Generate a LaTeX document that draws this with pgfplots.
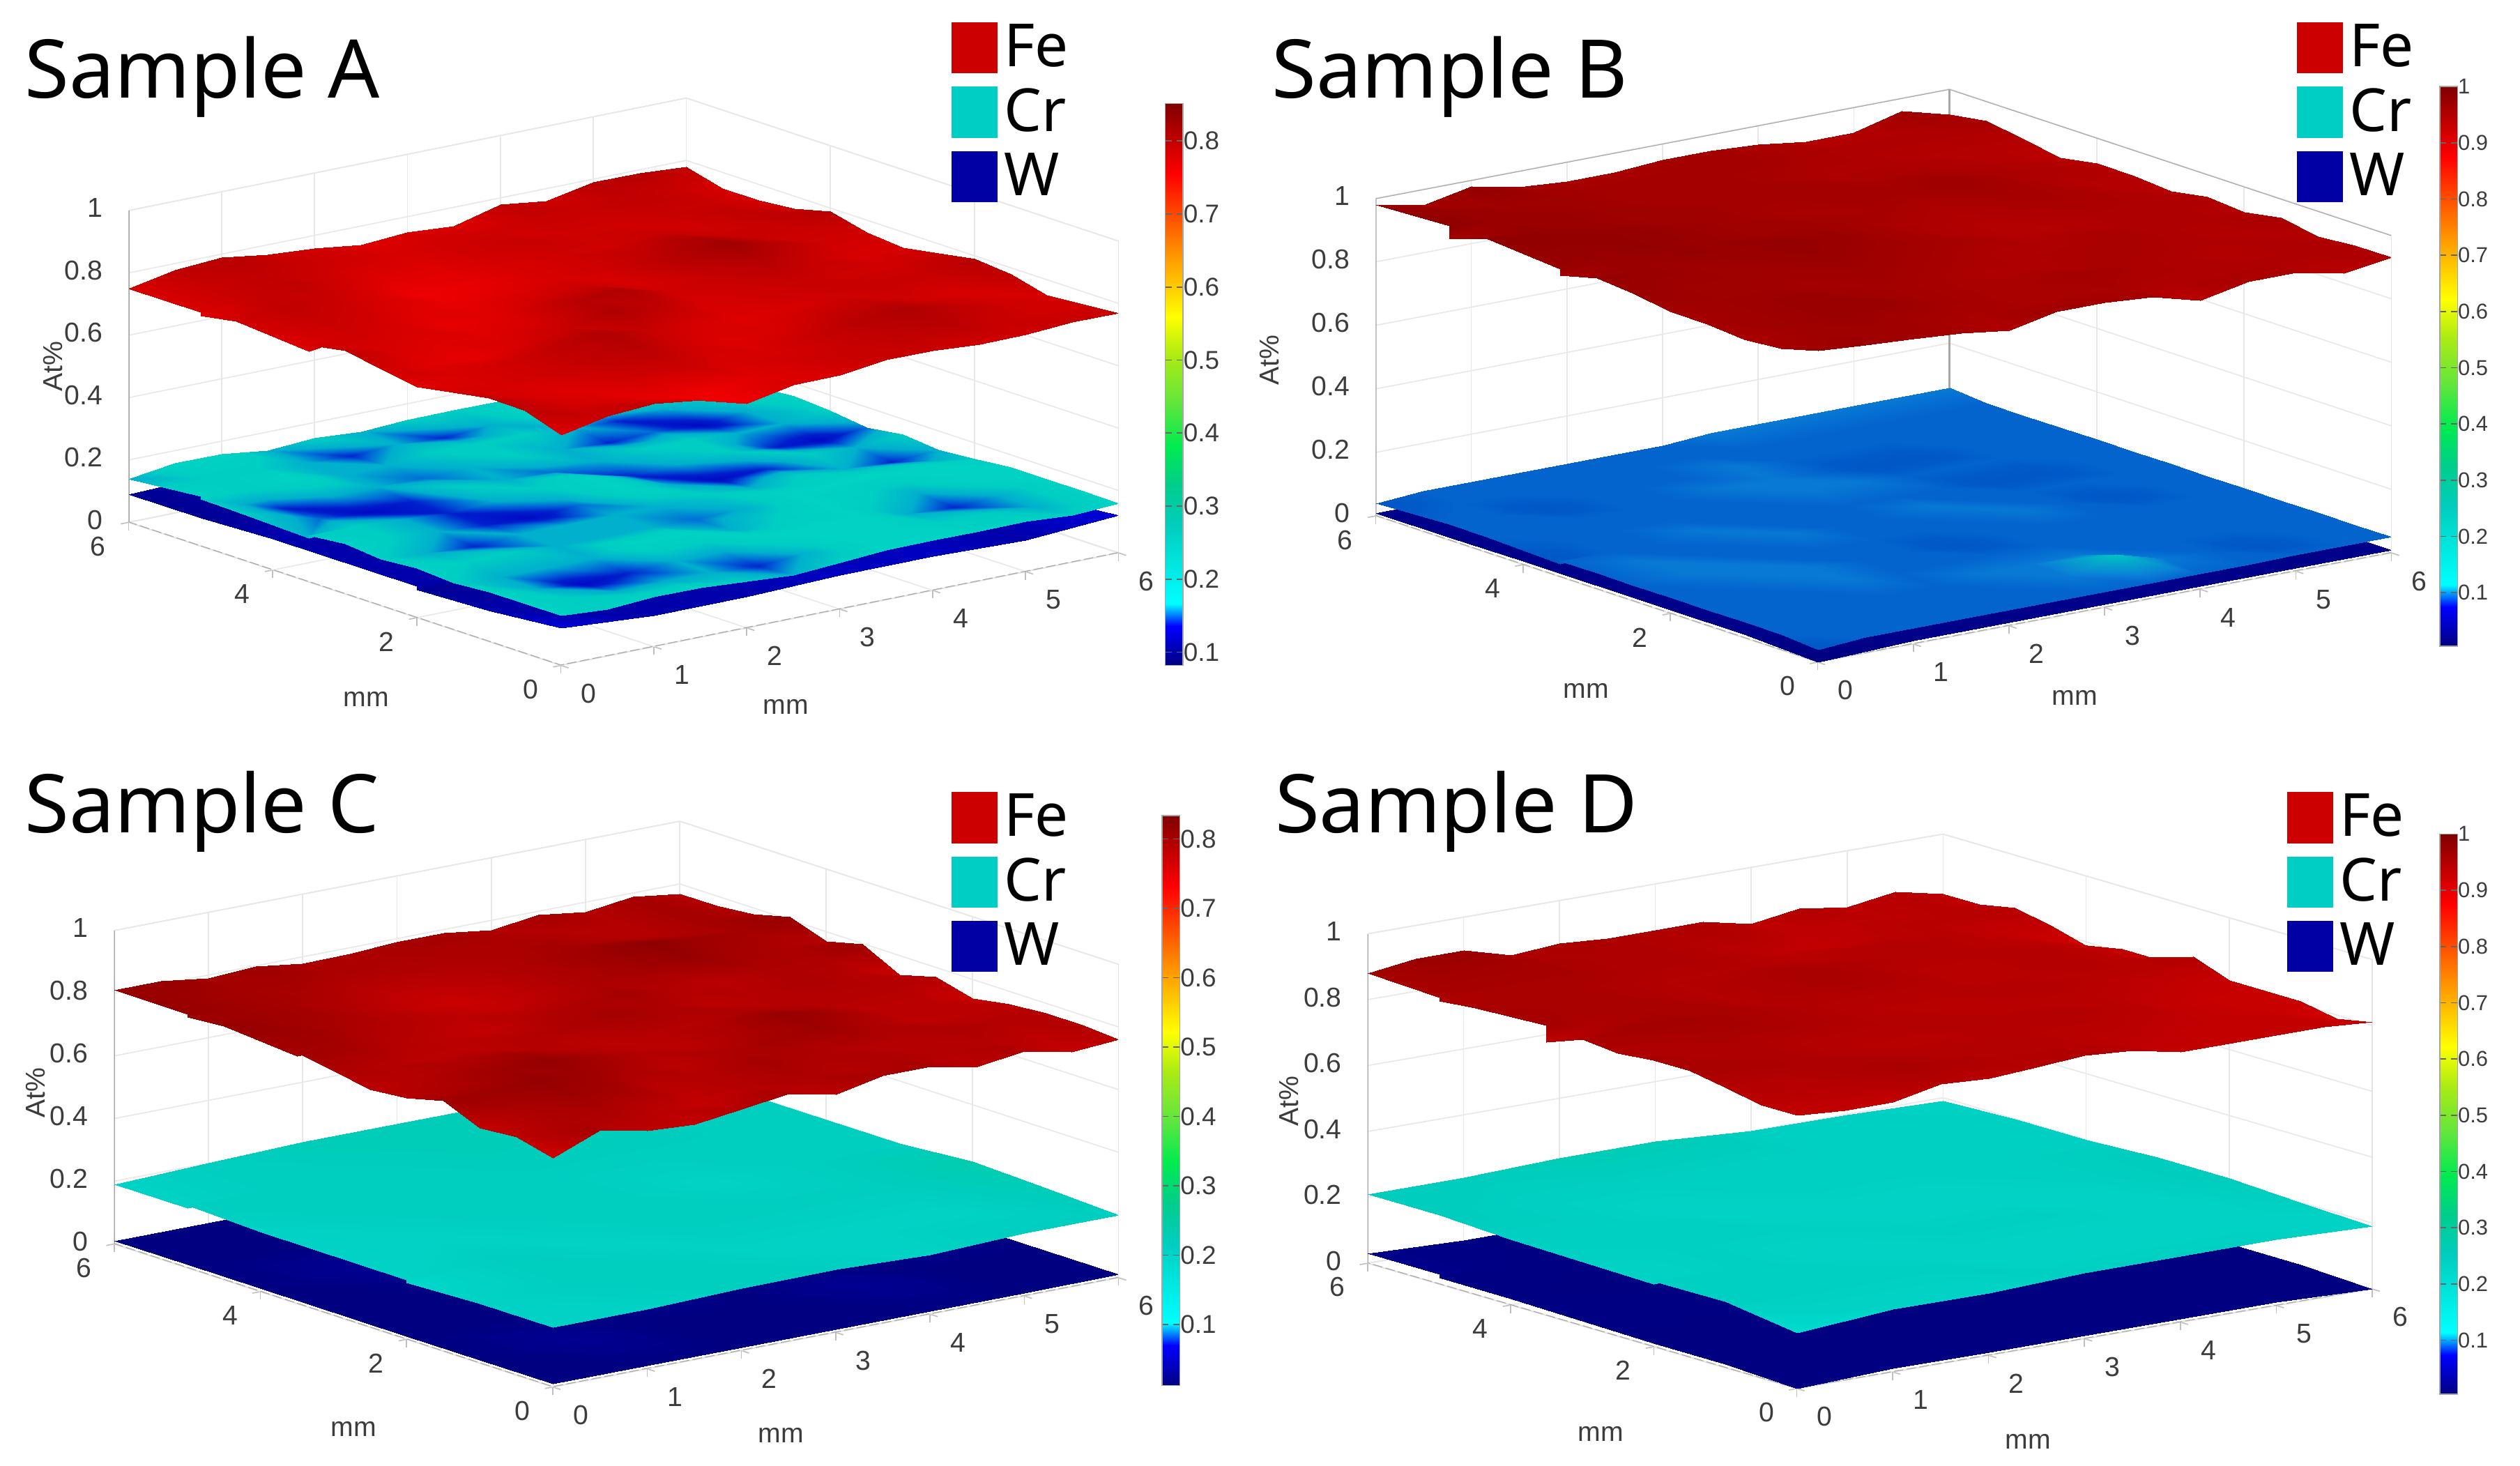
\documentclass[border=0pt]{standalone}
\usepackage{fontspec}
\usepackage{pgfplots}
\pgfplotsset{compat=1.18}
\setmainfont{Liberation Sans}
\newfontfamily\titlefont{Noto Sans}

\definecolor{legfe}{RGB}{205,0,0}
\definecolor{legcr}{RGB}{0,205,195}
\definecolor{legw}{RGB}{0,0,165}
\definecolor{tickc}{RGB}{60,60,60}

\pgfplotsset{
  colormap={jetmod}{
    rgb255(0pt)=(0,0,128) rgb255(70pt)=(0,0,255) rgb255(110pt)=(0,255,255)
    rgb255(250pt)=(0,205,190) rgb255(320pt)=(0,205,140) rgb255(390pt)=(0,235,80)
    rgb255(470pt)=(100,230,60) rgb255(550pt)=(170,235,20) rgb255(620pt)=(255,255,0)
    rgb255(730pt)=(255,150,0) rgb255(875pt)=(255,0,0) rgb255(1000pt)=(128,0,0)
  },
  colormap={crblue}{
    rgb255(0pt)=(0,70,190) rgb255(40pt)=(0,90,200) rgb255(50pt)=(5,110,210)
    rgb255(60pt)=(10,130,215) rgb255(100pt)=(0,205,190) rgb255(1000pt)=(0,205,190)
  },
  colormap={crteal}{
    rgb255(0pt)=(0,0,170) rgb255(56pt)=(0,10,195) rgb255(62pt)=(0,30,205)
    rgb255(69pt)=(0,110,215) rgb255(75pt)=(0,175,205) rgb255(88pt)=(0,205,195)
    rgb255(101pt)=(0,210,195) rgb255(1000pt)=(0,210,195)
  },
  fine/.style={surf,shader=interp,forget plot,mesh/rows=14,mesh/cols=13},
  coarse/.style={surf,shader=interp,forget plot,mesh/rows=8,mesh/cols=7},
  edge/.style={forget plot,no marks,draw=gray!70,line width=.5pt},
  dashedge/.style={edge,dash pattern=on 3pt off 1pt},
  sample/.style={
    colormap name=jetmod,
    anchor=origin,
    xmin=0,xmax=6,ymin=0,ymax=6,zmin=0,zmax=1,
    enlargelimits=false,
    xtick={0,1,2,3,4,5,6},ytick={0,2,4,6},ztick={0,0.2,0.4,0.6,0.8,1},
    grid=major,grid style={gray!18,line width=.35pt},
    axis line style={gray!22,line width=.35pt},
    tick style={gray!50,line width=.35pt},major tick length=2.5pt,tick align=outside,
    z tick style={draw=none},
    tick pos=left,
    /pgf/number format/assume math mode=true,
    tick label style={font=\fontsize{8.5}{10}\selectfont,text=tickc,inner sep=0pt},
    xticklabel style={anchor=center,xshift=6.3pt,yshift=-8pt},
    yticklabel style={anchor=center,xshift=-7pt,yshift=-7pt},
    zticklabel style={anchor=east,xshift=-5.5pt,yshift=0pt},
    label style={font=\fontsize{8.5}{10}\selectfont,text=tickc,anchor=center},
    xlabel=mm,ylabel=mm,zlabel=At\%,
    zlabel style={rotate=0},
    colorbar,
    legend cell align=left,
    legend image code/.code={\fill[##1] (0pt,-7.75pt) rectangle (14pt,7.75pt);},
    legend style={anchor=north west,draw=none,fill=none,inner sep=0pt,outer sep=0pt,
      font=\titlefont\fontsize{18.5}{20}\selectfont,row sep=1.25pt,
      /tikz/every even column/.append style={column sep=3pt}},
  },
  bar/.style n args={4}{
    colorbar style={
      at={(#1c)},anchor=south west,scale only axis,width=5.5pt,height=#2,
      ytick={#3},yticklabel pos=right,
      tick style={draw=black!60,line width=.35pt},major tick length=2pt,tick align=inside,
      axis line style={gray!70,line width=.3pt},
      /pgf/number format/assume math mode=true,
      yticklabel style={font=\fontsize{#4}{10}\selectfont,text=tickc,xshift=0pt},
    },
  },
  table/tablegrid13/.style={row sep=\\,header=false,x expr={mod(\coordindex,13)/2},y expr={min(floor(\coordindex/13)/2,6)},z index=0},
  table/tablegrid7/.style={row sep=\\,header=false,x expr={mod(\coordindex,7)},y expr={min(floor(\coordindex/7),6)},z index=0},
}

\begin{document}
\begin{tikzpicture}
\path[use as bounding box] (0pt,0pt) rectangle (784pt,-456pt);
\begin{scope}[x=0.5pt,y=-0.5pt]
  \coordinate (Ao) at (349,414);  \coordinate (Ac) at (708,414);
  \coordinate (Bo) at (1131,412); \coordinate (Bc) at (1501,402);
  \coordinate (Co) at (344,863);  \coordinate (Cc) at (706,862);
  \coordinate (Do) at (1118,864); \coordinate (Dc) at (1501,867.5);
  \node[anchor=west,inner sep=0pt,font=\titlefont\fontsize{25.2}{28}\selectfont] at (15,48) {Sample A};
  \node[anchor=west,inner sep=0pt,font=\titlefont\fontsize{25.2}{28}\selectfont] at (791,48) {Sample B};
  \node[anchor=west,inner sep=0pt,font=\titlefont\fontsize{25.2}{28}\selectfont] at (15,505) {Sample C};
  \node[anchor=west,inner sep=0pt,font=\titlefont\fontsize{25.2}{28}\selectfont] at (793,505) {Sample D};
\end{scope}

% ---------- Sample A
\begin{axis}[sample,at={(Ao)},
  x={(28.917pt,5.833pt)},y={(-22.417pt,7.417pt)},z={(0pt,97pt)},
  xlabel style={at={(70pt,-13pt)}},ylabel style={at={(-60.5pt,-10.5pt)}},zlabel style={at={(-158pt,93pt)}},
  legend style={at={(121.5pt,201.5pt)}},
  point meta min=0.082,point meta max=0.851,
  bar={A}{174.75pt}{0.1,0.2,0.3,0.4,0.5,0.6,0.7,0.8}{8}]
\addplot3[dashedge] coordinates {(6,0,0)(0,0,0)(0,6,0)};
\addplot3[edge] coordinates {(0,6,0)(0,6,1)};
\addplot3[coarse] table[tablegrid7]{
.12\\.10\\.10\\.11\\.11\\.10\\.12\\
.10\\.10\\.10\\.10\\.11\\.10\\.10\\
.09\\.10\\.11\\.10\\.10\\.11\\.11\\
.10\\.10\\.10\\.10\\.11\\.10\\.11\\
.10\\.11\\.10\\.10\\.10\\.11\\.10\\
.09\\.10\\.10\\.11\\.10\\.10\\.11\\
.09\\.10\\.10\\.10\\.10\\.10\\.11\\
.09\\.10\\.10\\.10\\.10\\.10\\.11\\
};
\addplot3[fine,colormap name=crteal] table[tablegrid13]{
.16\\.15\\.16\\.16\\.15\\.14\\.15\\.16\\.16\\.16\\.16\\.15\\.16\\
.16\\.15\\.14\\.14\\.14\\.13\\.14\\.16\\.16\\.15\\.15\\.14\\.16\\
.16\\.14\\.125\\.13\\.14\\.14\\.16\\.16\\.16\\.14\\.13\\.14\\.16\\
.15\\.14\\.14\\.14\\.16\\.16\\.14\\.15\\.16\\.15\\.14\\.16\\.16\\
.16\\.15\\.15\\.14\\.14\\.14\\.135\\.14\\.16\\.16\\.16\\.16\\.15\\
.15\\.14\\.13\\.14\\.14\\.14\\.14\\.15\\.14\\.15\\.14\\.13\\.14\\
.16\\.15\\.14\\.13\\.125\\.135\\.16\\.14\\.125\\.13\\.15\\.14\\.15\\
.15\\.15\\.14\\.13\\.14\\.15\\.16\\.13\\.14\\.15\\.13\\.125\\.135\\
.14\\.135\\.125\\.13\\.15\\.14\\.135\\.14\\.15\\.15\\.14\\.14\\.15\\
.15\\.13\\.14\\.14\\.135\\.14\\.15\\.14\\.13\\.135\\.125\\.14\\.16\\
.15\\.15\\.16\\.14\\.14\\.15\\.15\\.15\\.14\\.13\\.14\\.15\\.15\\
.16\\.15\\.15\\.14\\.13\\.14\\.13\\.14\\.16\\.16\\.16\\.15\\.16\\
.14\\.16\\.16\\.14\\.15\\.14\\.15\\.15\\.15\\.16\\.16\\.16\\.15\\
.14\\.16\\.16\\.14\\.15\\.14\\.15\\.15\\.15\\.16\\.16\\.16\\.15\\
};
\addplot3[fine,point meta={0.6*\thisrowno{0}+0.335}] table[tablegrid13]{
.74\\.77\\.78\\.76\\.72\\.75\\.75\\.77\\.77\\.76\\.76\\.77\\.77\\
.78\\.76\\.75\\.73\\.72\\.74\\.76\\.77\\.78\\.79\\.77\\.76\\.76\\
.78\\.75\\.74\\.76\\.77\\.75\\.75\\.77\\.79\\.80\\.78\\.76\\.75\\
.76\\.75\\.76\\.78\\.79\\.76\\.74\\.75\\.77\\.78\\.76\\.75\\.78\\
.74\\.75\\.76\\.78\\.80\\.77\\.75\\.74\\.75\\.76\\.77\\.77\\.79\\
.76\\.74\\.73\\.75\\.77\\.80\\.78\\.75\\.76\\.77\\.76\\.76\\.77\\
.78\\.75\\.74\\.74\\.75\\.79\\.80\\.76\\.77\\.79\\.77\\.75\\.75\\
.76\\.76\\.75\\.73\\.74\\.76\\.77\\.75\\.79\\.82\\.79\\.76\\.76\\
.74\\.77\\.76\\.74\\.73\\.74\\.75\\.76\\.78\\.80\\.77\\.77\\.79\\
.76\\.78\\.77\\.75\\.72\\.73\\.75\\.76\\.76\\.77\\.76\\.78\\.76\\
.74\\.77\\.78\\.76\\.74\\.74\\.76\\.77\\.76\\.76\\.77\\.77\\.75\\
.75\\.77\\.78\\.77\\.76\\.75\\.76\\.76\\.77\\.77\\.78\\.77\\.75\\
.75\\.78\\.79\\.77\\.76\\.74\\.75\\.74\\.78\\.76\\.79\\.79\\.78\\
.75\\.78\\.79\\.77\\.76\\.74\\.75\\.74\\.78\\.76\\.79\\.79\\.78\\
};
\addlegendimage{legfe}\addlegendentry{Fe}
\addlegendimage{legcr}\addlegendentry{Cr}
\addlegendimage{legw}\addlegendentry{W}
\end{axis}

% ---------- Sample B
\begin{axis}[sample,at={(Bo)},
  x={(29.75pt,5.667pt)},y={(-22.917pt,7.583pt)},z={(0pt,98.8pt)},
  xlabel style={at={(80pt,-11pt)}},ylabel style={at={(-72pt,-9pt)}},zlabel style={at={(-170.5pt,94pt)}},
  legend style={at={(149pt,200.5pt)}},
  point meta min=0.005,point meta max=1,
  bar={B}{174.1pt}{0.1,0.2,0.3,0.4,0.5,0.6,0.7,0.8,0.9,1}{6.7}]
\addplot3[dashedge] coordinates {(6,0,0)(0,0,0)(0,6,0)};
\addplot3[edge] coordinates {(0,6,0)(0,6,1)(6,6,1)(6,0,1)};
\addplot3[edge] coordinates {(6,6,0)(6,6,1)};
\addplot3[coarse] table[tablegrid7]{
.00\\.01\\.01\\.01\\.01\\.01\\.01\\
.01\\.01\\.01\\.01\\.01\\.01\\.01\\
.01\\.01\\.01\\.01\\.01\\.01\\.01\\
.01\\.01\\.01\\.01\\.01\\.01\\.01\\
.01\\.01\\.01\\.01\\.01\\.01\\.01\\
.01\\.01\\.01\\.01\\.01\\.01\\.01\\
.01\\.01\\.01\\.01\\.01\\.01\\.01\\
.01\\.01\\.01\\.01\\.01\\.01\\.01\\
};
\addplot3[fine,colormap name=crblue] table[tablegrid13]{
.04\\.05\\.05\\.05\\.05\\.05\\.05\\.05\\.05\\.05\\.05\\.05\\.05\\
.05\\.05\\.05\\.05\\.05\\.05\\.06\\.10\\.06\\.05\\.04\\.05\\.05\\
.05\\.05\\.05\\.05\\.05\\.06\\.06\\.06\\.05\\.05\\.05\\.05\\.05\\
.05\\.05\\.05\\.06\\.05\\.05\\.05\\.05\\.05\\.05\\.05\\.05\\.05\\
.05\\.05\\.06\\.06\\.05\\.05\\.04\\.05\\.05\\.05\\.05\\.05\\.05\\
.05\\.06\\.06\\.05\\.05\\.05\\.05\\.05\\.06\\.05\\.04\\.05\\.05\\
.05\\.06\\.05\\.05\\.06\\.05\\.05\\.06\\.05\\.05\\.05\\.05\\.05\\
.05\\.05\\.05\\.06\\.05\\.05\\.05\\.05\\.05\\.04\\.04\\.05\\.05\\
.04\\.05\\.05\\.05\\.05\\.05\\.06\\.06\\.05\\.05\\.05\\.05\\.05\\
.05\\.05\\.05\\.05\\.05\\.06\\.06\\.05\\.04\\.04\\.05\\.05\\.05\\
.05\\.05\\.04\\.05\\.05\\.05\\.06\\.05\\.05\\.05\\.05\\.05\\.05\\
.05\\.05\\.05\\.05\\.05\\.05\\.05\\.05\\.05\\.05\\.05\\.05\\.05\\
.04\\.05\\.05\\.05\\.05\\.05\\.05\\.06\\.06\\.06\\.06\\.06\\.06\\
.04\\.05\\.05\\.05\\.05\\.05\\.05\\.06\\.06\\.06\\.06\\.06\\.06\\
};
\addplot3[fine,point meta={0.5*\thisrowno{0}+0.49}] table[tablegrid13]{
.98\\.97\\.96\\.95\\.93\\.96\\.96\\.95\\.91\\.94\\.94\\.91\\.93\\
.95\\.96\\.96\\.95\\.94\\.94\\.94\\.94\\.93\\.93\\.93\\.93\\.93\\
.94\\.96\\.97\\.97\\.95\\.94\\.94\\.95\\.94\\.93\\.92\\.93\\.92\\
.95\\.96\\.97\\.96\\.95\\.94\\.93\\.93\\.94\\.94\\.93\\.92\\.94\\
.95\\.96\\.96\\.95\\.96\\.95\\.94\\.93\\.93\\.94\\.93\\.93\\.92\\
.97\\.96\\.96\\.96\\.97\\.96\\.95\\.94\\.92\\.92\\.93\\.93\\.93\\
.98\\.97\\.96\\.97\\.98\\.97\\.95\\.93\\.92\\.93\\.94\\.93\\.91\\
.95\\.97\\.98\\.97\\.96\\.96\\.95\\.94\\.93\\.95\\.94\\.92\\.92\\
.97\\.98\\.98\\.97\\.96\\.95\\.94\\.95\\.95\\.96\\.94\\.93\\.92\\
.99\\.98\\.97\\.96\\.96\\.95\\.95\\.95\\.94\\.94\\.93\\.92\\.90\\
.95\\.97\\.97\\.96\\.95\\.95\\.95\\.94\\.93\\.93\\.92\\.92\\.92\\
.99\\.97\\.96\\.96\\.95\\.95\\.95\\.95\\.94\\.93\\.93\\.93\\.94\\
.98\\.95\\.98\\.95\\.94\\.94\\.95\\.95\\.94\\.92\\.92\\.96\\.92\\
.98\\.95\\.98\\.95\\.94\\.94\\.95\\.95\\.94\\.92\\.92\\.96\\.92\\
};
\addlegendimage{legfe}\addlegendentry{Fe}
\addlegendimage{legcr}\addlegendentry{Cr}
\addlegendimage{legw}\addlegendentry{W}
\end{axis}

% ---------- Sample C
\begin{axis}[sample,at={(Co)},
  x={(29.333pt,5.667pt)},y={(-22.75pt,7.417pt)},z={(0pt,97.5pt)},
  xlabel style={at={(71pt,-15pt)}},ylabel style={at={(-62pt,-13pt)}},zlabel style={at={(-161pt,91.5pt)}},
  legend style={at={(124pt,186.5pt)}},
  point meta min=0.012,point meta max=0.834,
  bar={C}{177.3pt}{0.1,0.2,0.3,0.4,0.5,0.6,0.7,0.8}{8}]
\addplot3[dashedge] coordinates {(6,0,0)(0,0,0)(0,6,0)};
\addplot3[edge] coordinates {(0,6,0)(0,6,1)};
\addplot3[coarse] table[tablegrid7]{
.01\\.01\\.01\\.01\\.01\\.01\\.01\\
.01\\.02\\.01\\.01\\.02\\.01\\.01\\
.01\\.01\\.02\\.01\\.01\\.02\\.01\\
.01\\.01\\.01\\.02\\.01\\.01\\.01\\
.01\\.02\\.01\\.01\\.02\\.01\\.01\\
.01\\.01\\.01\\.01\\.01\\.01\\.01\\
.01\\.01\\.01\\.01\\.01\\.01\\.01\\
.01\\.01\\.01\\.01\\.01\\.01\\.01\\
};
\addplot3[coarse,point meta={\thisrowno{0}+0.015}] table[tablegrid7]{
.19\\.19\\.20\\.20\\.19\\.20\\.20\\
.19\\.20\\.20\\.19\\.19\\.19\\.21\\
.18\\.20\\.19\\.20\\.20\\.20\\.22\\
.19\\.19\\.20\\.20\\.19\\.20\\.20\\
.19\\.20\\.20\\.20\\.20\\.20\\.20\\
.20\\.20\\.20\\.21\\.21\\.20\\.20\\
.19\\.20\\.21\\.21\\.21\\.20\\.20\\
.19\\.20\\.21\\.21\\.21\\.20\\.20\\
};
\addplot3[fine,point meta={0.6*\thisrowno{0}+0.33}] table[tablegrid13]{
.73\\.79\\.76\\.75\\.77\\.79\\.76\\.79\\.79\\.76\\.78\\.75\\.76\\
.76\\.78\\.78\\.76\\.75\\.77\\.78\\.77\\.78\\.77\\.77\\.76\\.77\\
.75\\.78\\.80\\.79\\.76\\.77\\.79\\.78\\.77\\.77\\.78\\.77\\.77\\
.80\\.80\\.81\\.80\\.78\\.76\\.78\\.79\\.80\\.78\\.76\\.76\\.76\\
.77\\.78\\.80\\.81\\.79\\.77\\.76\\.78\\.81\\.79\\.76\\.76\\.74\\
.76\\.77\\.78\\.79\\.77\\.76\\.77\\.77\\.78\\.77\\.77\\.77\\.77\\
.78\\.77\\.76\\.76\\.77\\.78\\.79\\.78\\.76\\.77\\.78\\.77\\.74\\
.80\\.79\\.77\\.76\\.75\\.77\\.78\\.79\\.77\\.76\\.78\\.78\\.80\\
.79\\.80\\.78\\.77\\.76\\.75\\.76\\.78\\.79\\.81\\.79\\.78\\.77\\
.81\\.80\\.79\\.77\\.75\\.74\\.76\\.78\\.80\\.82\\.80\\.79\\.81\\
.80\\.80\\.79\\.78\\.76\\.76\\.77\\.78\\.79\\.78\\.77\\.79\\.78\\
.81\\.80\\.79\\.79\\.78\\.78\\.78\\.78\\.78\\.77\\.77\\.79\\.77\\
.81\\.81\\.79\\.80\\.78\\.78\\.79\\.79\\.77\\.79\\.77\\.79\\.77\\
.81\\.81\\.79\\.80\\.78\\.78\\.79\\.79\\.77\\.79\\.77\\.79\\.77\\
};
\addlegendimage{legfe}\addlegendentry{Fe}
\addlegendimage{legcr}\addlegendentry{Cr}
\addlegendimage{legw}\addlegendentry{W}
\end{axis}

% ---------- Sample D
\begin{axis}[sample,at={(Do)},
  x={(29.833pt,5.167pt)},y={(-22.25pt,6.5pt)},z={(0pt,102.5pt)},
  xlabel style={at={(72pt,-16.5pt)}},ylabel style={at={(-61pt,-14pt)}},zlabel style={at={(-158pt,89.5pt)}},
  legend style={at={(152.5pt,187pt)}},
  point meta min=0.004,point meta max=1,
  bar={D}{174.3pt}{0.1,0.2,0.3,0.4,0.5,0.6,0.7,0.8,0.9,1}{6.7}]
\addplot3[dashedge] coordinates {(6,0,0)(0,0,0)(0,6,0)};
\addplot3[edge] coordinates {(0,6,0)(0,6,1)};
\addplot3[coarse,point meta={0.3*\thisrowno{0}}] table[tablegrid7]{
.00\\.01\\.01\\.01\\.01\\.01\\.00\\
.01\\.01\\.01\\.01\\.01\\.01\\.01\\
.01\\.01\\.01\\.01\\.01\\.01\\.01\\
.01\\.02\\.01\\.01\\.01\\.01\\.01\\
.02\\.01\\.01\\.01\\.01\\.01\\.01\\
.02\\.02\\.01\\.01\\.01\\.01\\.01\\
.03\\.02\\.02\\.01\\.01\\.01\\.01\\
.03\\.02\\.02\\.01\\.01\\.01\\.01\\
};
\addplot3[coarse,point meta={\thisrowno{0}+0.045}] table[tablegrid7]{
.17\\.19\\.19\\.20\\.20\\.20\\.19\\
.20\\.20\\.20\\.19\\.19\\.19\\.20\\
.20\\.20\\.19\\.20\\.20\\.19\\.21\\
.19\\.20\\.20\\.19\\.19\\.20\\.21\\
.20\\.20\\.19\\.20\\.20\\.20\\.20\\
.21\\.20\\.20\\.20\\.20\\.20\\.20\\
.21\\.21\\.22\\.22\\.20\\.20\\.19\\
.21\\.21\\.22\\.22\\.20\\.20\\.19\\
};
\addplot3[fine,point meta={0.5*\thisrowno{0}+0.525}] table[tablegrid13]{
.83\\.82\\.82\\.85\\.84\\.85\\.86\\.85\\.82\\.82\\.82\\.82\\.81\\
.83\\.84\\.85\\.87\\.86\\.85\\.85\\.84\\.83\\.82\\.82\\.82\\.79\\
.85\\.85\\.86\\.86\\.85\\.85\\.85\\.84\\.84\\.83\\.82\\.81\\.81\\
.87\\.87\\.86\\.85\\.84\\.84\\.85\\.85\\.85\\.84\\.82\\.81\\.81\\
.87\\.86\\.86\\.85\\.85\\.85\\.85\\.84\\.84\\.84\\.83\\.82\\.81\\
.86\\.86\\.87\\.87\\.86\\.85\\.84\\.84\\.85\\.85\\.84\\.84\\.85\\
.87\\.88\\.88\\.87\\.86\\.85\\.85\\.85\\.84\\.84\\.85\\.84\\.81\\
.83\\.86\\.87\\.87\\.85\\.86\\.87\\.86\\.84\\.84\\.85\\.84\\.81\\
.88\\.87\\.87\\.86\\.85\\.86\\.87\\.86\\.85\\.85\\.84\\.83\\.79\\
.87\\.87\\.87\\.86\\.85\\.85\\.85\\.84\\.85\\.85\\.84\\.82\\.82\\
.86\\.87\\.87\\.87\\.86\\.86\\.85\\.83\\.82\\.83\\.84\\.84\\.84\\
.87\\.88\\.88\\.87\\.86\\.86\\.85\\.85\\.83\\.83\\.83\\.84\\.82\\
.88\\.90\\.90\\.86\\.87\\.86\\.86\\.86\\.83\\.85\\.83\\.85\\.82\\
.88\\.90\\.90\\.86\\.87\\.86\\.86\\.86\\.83\\.85\\.83\\.85\\.82\\
};
\addlegendimage{legfe}\addlegendentry{Fe}
\addlegendimage{legcr}\addlegendentry{Cr}
\addlegendimage{legw}\addlegendentry{W}
\end{axis}
\end{tikzpicture}
\end{document}
